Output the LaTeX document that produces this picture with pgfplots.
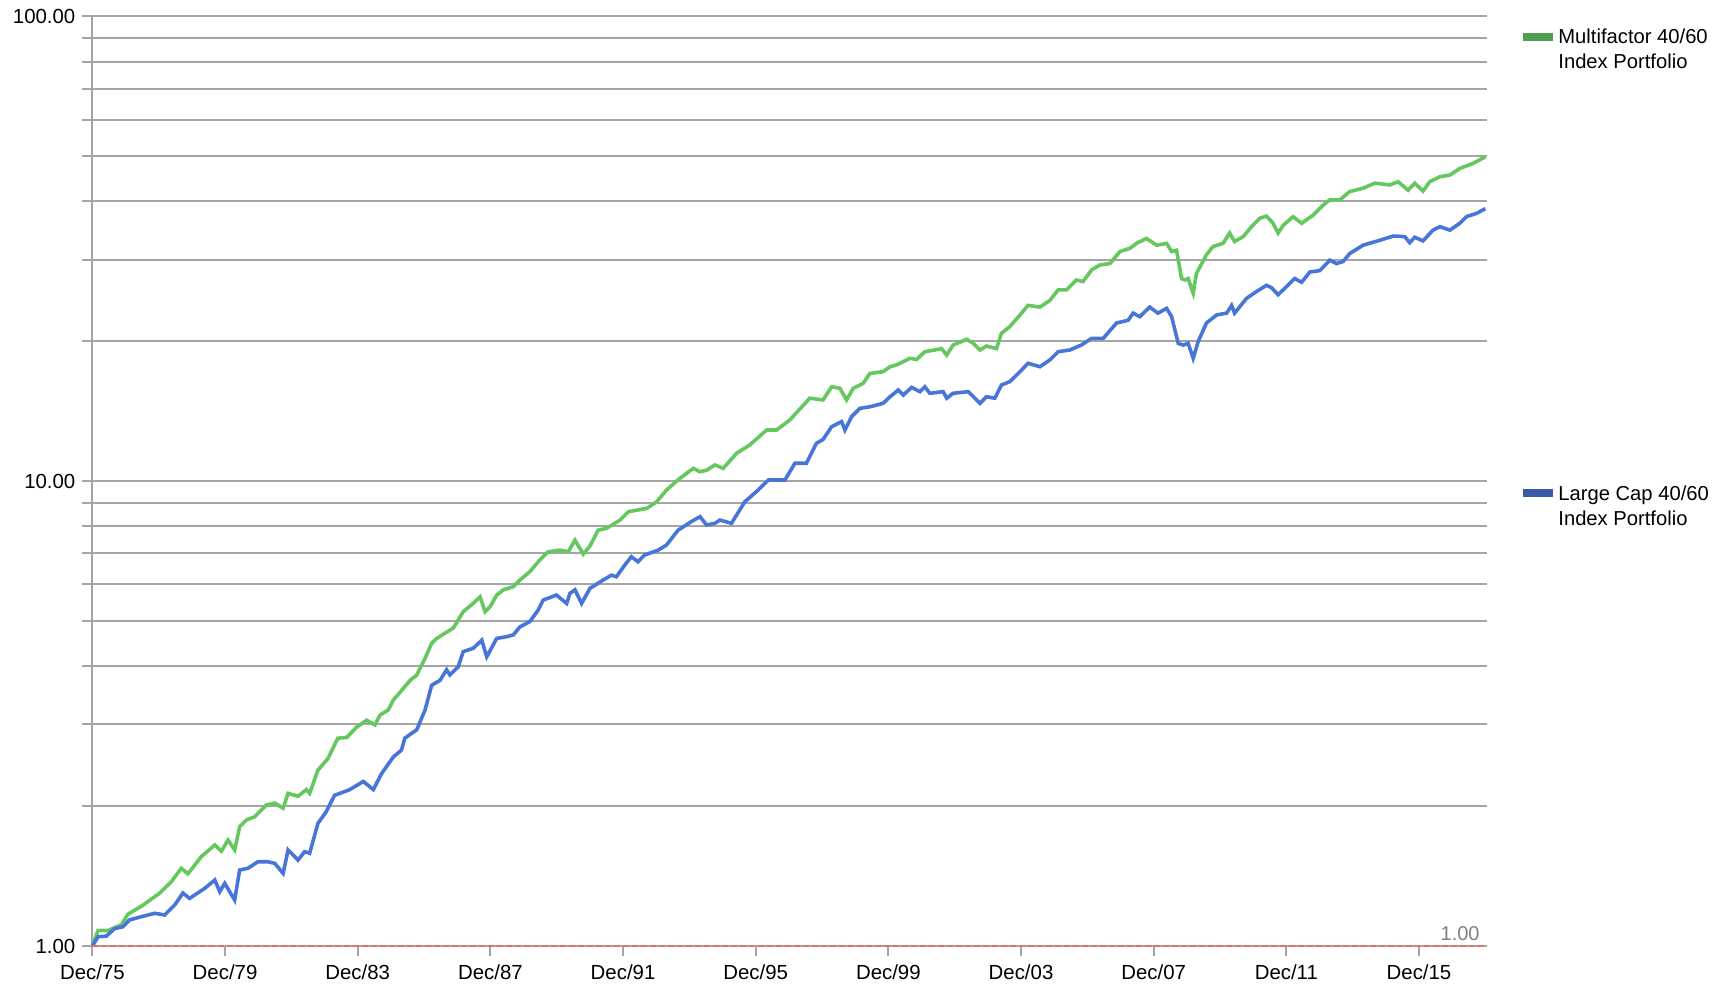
\documentclass[border=0pt]{standalone}
\usepackage{fontspec}
\setmainfont{Liberation Sans}
\usepackage{pgfplots}
\pgfplotsset{compat=1.18}
\definecolor{gline}{RGB}{100,200,95}
\definecolor{bline}{RGB}{72,118,216}
\definecolor{gleg}{RGB}{78,160,78}
\definecolor{bleg}{RGB}{58,90,168}
\definecolor{gridg}{RGB}{165,165,165}
\definecolor{refred}{RGB}{232,110,110}
\begin{document}
\begin{tikzpicture}
\useasboundingbox (0,0) rectangle (862.5pt,493.5pt);
\begin{axis}[
  at={(46.2pt,20.5pt)}, anchor=south west,
  scale only axis, width=697.3pt, height=464.75pt,
  xmin=0, xmax=42.05, ymode=log, ymin=1, ymax=100,
  axis lines*=left,
  axis line style={draw=gridg, line width=1pt},
  xtick={0,4,...,40},
  xticklabels={Dec/75,Dec/79,Dec/83,Dec/87,Dec/91,Dec/95,Dec/99,Dec/03,Dec/07,Dec/11,Dec/15},
  ytick={1,10,100}, yticklabels={1.00,10.00,100.00},
  minor ytick={2,3,4,5,6,7,8,9,20,30,40,50,60,70,80,90},
  ymajorgrids, yminorgrids,
  grid style={draw=gridg, line width=1pt},
  minor grid style={draw=gridg, line width=1pt},
  tick align=outside, major tick length=5pt, minor tick length=5pt,
  tick style={draw=gridg, line width=1pt},
  ticklabel style={font=\fontsize{10.2}{12}\selectfont},
  xticklabel style={yshift=-1pt},
  /pgf/number format/assume math mode=true,
  clip=false,
]
\addplot[gline, line width=1.8pt] coordinates {
(0,1.00) (0.17,1.08) (0.47,1.08) (0.87,1.11) (1.07,1.17) (1.53,1.225) (2.03,1.30) (2.38,1.375)
(2.68,1.47) (2.88,1.43) (3.28,1.556) (3.69,1.65) (3.89,1.60) (4.09,1.69) (4.29,1.61) (4.44,1.806)
(4.64,1.867) (4.89,1.897) (5.24,2.01) (5.50,2.03) (5.75,1.98) (5.90,2.13) (6.20,2.10) (6.45,2.17)
(6.55,2.13) (6.80,2.39) (7.10,2.53) (7.40,2.80) (7.67,2.81) (7.97,2.96) (8.27,3.06) (8.52,2.99)
(8.67,3.14) (8.92,3.22) (9.07,3.38) (9.37,3.58) (9.58,3.73) (9.78,3.83) (10.03,4.16) (10.23,4.48)
(10.38,4.59) (10.63,4.71) (10.88,4.83) (11.03,5.03) (11.18,5.24) (11.48,5.46) (11.69,5.64) (11.84,5.24)
(11.99,5.37) (12.19,5.69) (12.39,5.84) (12.69,5.93) (12.89,6.13) (13.19,6.39) (13.49,6.77) (13.74,7.05)
(14.10,7.11) (14.35,7.05) (14.55,7.47) (14.80,6.97) (15.00,7.25) (15.25,7.85) (15.50,7.92) (15.91,8.25)
(16.16,8.60) (16.71,8.74) (17.01,9.03) (17.31,9.57) (17.71,10.14) (18.12,10.66) (18.32,10.48) (18.52,10.56)
(18.77,10.84) (19.02,10.66) (19.42,11.48) (19.82,11.97) (20.33,12.89) (20.63,12.89) (21.03,13.55) (21.33,14.3)
(21.63,15.09) (22.03,14.96) (22.29,15.97) (22.54,15.85) (22.74,14.96) (22.94,15.85) (23.24,16.24) (23.44,17.06)
(23.84,17.21) (24.05,17.64) (24.25,17.80) (24.65,18.39) (24.85,18.28) (25.10,19.00) (25.40,19.16) (25.60,19.30)
(25.76,18.69) (25.95,19.64) (26.36,20.20) (26.56,19.81) (26.76,19.16) (26.96,19.54) (27.26,19.30) (27.41,20.82)
(27.66,21.50) (27.97,22.80) (28.21,23.90) (28.57,23.70) (28.87,24.50) (29.12,25.80) (29.37,25.80) (29.67,27.10)
(29.87,26.90) (30.13,28.50) (30.38,29.20) (30.68,29.40) (30.98,31.20) (31.28,31.70) (31.48,32.50) (31.78,33.30)
(32.09,32.20) (32.39,32.50) (32.54,31.20) (32.69,31.40) (32.84,27.30) (32.94,27.10) (33.04,27.30) (33.19,25.40)
(33.29,28.00) (33.59,30.70) (33.79,32.00) (34.09,32.50) (34.29,34.20) (34.44,32.80) (34.70,33.60) (34.95,35.30)
(35.20,36.80) (35.40,37.20) (35.60,35.90) (35.75,34.20) (35.90,35.50) (36.20,37.10) (36.46,35.90) (36.81,37.40)
(37.11,39.30) (37.31,40.30) (37.61,40.30) (37.91,42.00) (38.31,42.70) (38.67,43.80) (39.12,43.40) (39.37,44.10)
(39.67,42.30) (39.87,43.80) (40.12,42.10) (40.32,44.10) (40.63,45.20) (40.93,45.60) (41.23,47.10) (41.63,48.30)
(42.00,49.90)
};
\addplot[bline, line width=1.8pt] coordinates {
(0,1.00) (0.17,1.047) (0.42,1.05) (0.67,1.09) (0.92,1.10) (1.12,1.138) (1.47,1.156) (1.88,1.176)
(2.18,1.166) (2.48,1.225) (2.73,1.30) (2.93,1.266) (3.39,1.331) (3.69,1.387) (3.84,1.309) (3.99,1.364)
(4.29,1.256) (4.44,1.457) (4.69,1.47) (4.99,1.518) (5.29,1.518) (5.50,1.506) (5.75,1.433) (5.90,1.61)
(6.20,1.531) (6.40,1.596) (6.55,1.583) (6.80,1.836) (7.05,1.945) (7.30,2.11) (7.46,2.13) (7.76,2.17)
(8.17,2.26) (8.47,2.17) (8.72,2.35) (9.07,2.55) (9.32,2.64) (9.42,2.80) (9.78,2.92) (10.03,3.22)
(10.23,3.64) (10.48,3.73) (10.68,3.93) (10.78,3.83) (11.03,3.99) (11.18,4.30) (11.48,4.37) (11.74,4.55)
(11.89,4.19) (12.19,4.59) (12.49,4.63) (12.69,4.67) (12.89,4.86) (13.19,4.99) (13.44,5.28) (13.59,5.55)
(13.99,5.69) (14.30,5.46) (14.40,5.74) (14.55,5.84) (14.75,5.46) (15.00,5.88) (15.40,6.13) (15.65,6.28)
(15.80,6.23) (16.05,6.60) (16.25,6.88) (16.45,6.71) (16.65,6.94) (17.06,7.11) (17.31,7.29) (17.66,7.85)
(18.06,8.19) (18.32,8.39) (18.52,8.05) (18.77,8.12) (18.92,8.25) (19.27,8.12) (19.67,9.03) (20.07,9.57)
(20.38,10.06) (20.88,10.06) (21.18,10.93) (21.53,10.93) (21.83,12.07) (22.03,12.3) (22.29,13.1) (22.59,13.44)
(22.69,12.89) (22.89,13.77) (23.14,14.35) (23.44,14.46) (23.84,14.71) (24.05,15.20) (24.30,15.72) (24.45,15.33)
(24.70,15.92) (24.95,15.59) (25.10,15.97) (25.25,15.46) (25.65,15.59) (25.76,15.09) (25.95,15.46) (26.41,15.59)
(26.76,14.71) (26.96,15.20) (27.21,15.09) (27.41,16.11) (27.66,16.38) (27.97,17.21) (28.21,17.94) (28.57,17.64)
(28.87,18.24) (29.12,19.0) (29.47,19.16) (29.82,19.64) (30.13,20.3) (30.48,20.3) (30.88,21.9) (31.23,22.2)
(31.38,23.0) (31.58,22.6) (31.88,23.7) (32.13,23.0) (32.39,23.55) (32.54,22.6) (32.74,19.81) (32.89,19.64)
(33.04,19.81) (33.19,18.39) (33.34,19.97) (33.59,21.9) (33.90,22.8) (34.20,23.0) (34.35,23.9) (34.44,23.0)
(34.80,24.75) (35.10,25.6) (35.40,26.4) (35.55,26.1) (35.75,25.2) (36.00,26.2) (36.25,27.3) (36.46,26.8)
(36.71,28.2) (37.01,28.4) (37.31,29.9) (37.51,29.4) (37.71,29.7) (37.91,30.9) (38.31,32.2) (38.82,33.0)
(39.22,33.7) (39.57,33.6) (39.72,32.6) (39.87,33.5) (40.12,32.9) (40.42,34.7) (40.63,35.3) (40.93,34.7)
(41.23,35.9) (41.43,37.1) (41.73,37.7) (42.00,38.6)
};
\addplot[refred, line width=1pt, dash pattern=on 3pt off 1.5pt] coordinates {(0,1) (42.05,1)};
\node[anchor=south east, inner sep=0pt, text=gray, font=\fontsize{10}{12}\selectfont,
      xshift=-3.5pt, yshift=2.7pt] at (axis cs:42.05,1) {1.00};
\end{axis}
\draw[gleg, line width=4pt] (761.5pt,475.15pt) -- (776.5pt,475.15pt);
\node[anchor=west, align=left, inner sep=0pt, font=\fontsize{10.1}{12.5}\selectfont]
  at (779pt,468.9pt) {Multifactor 40/60\\Index Portfolio};
\draw[bleg, line width=4pt] (761.5pt,246.85pt) -- (776.5pt,246.85pt);
\node[anchor=west, align=left, inner sep=0pt, font=\fontsize{10.1}{12.5}\selectfont]
  at (779pt,240.6pt) {Large Cap 40/60\\Index Portfolio};
\end{tikzpicture}
\end{document}
